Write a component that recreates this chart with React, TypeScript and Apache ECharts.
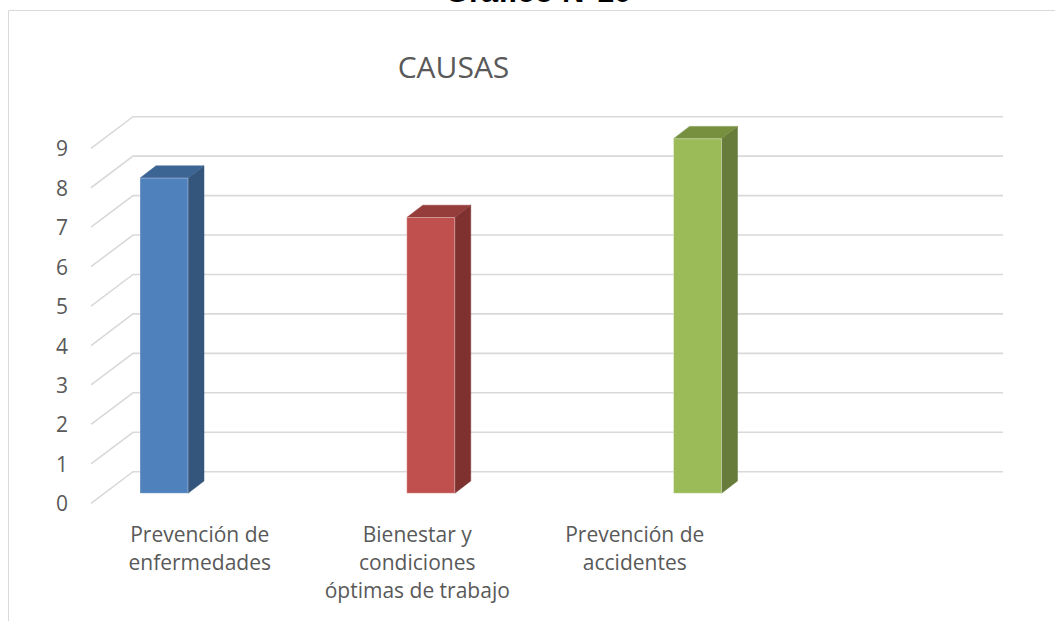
import React, { useEffect, useRef } from "react";
import * as echarts from "echarts";

const categories = [
  "Prevención de\nenfermedades",
  "Bienestar y\ncondiciones\nóptimas de trabajo",
  "Prevención de\naccidentes",
  "",
];
const values = [8, 7, 9];
const yTicks = [0, 1, 2, 3, 4, 5, 6, 7, 8, 9];
const frontColors = ["#4f81bd", "#c0504d", "#9bbb59"];
const sideColors = ["#34557c", "#7e312f", "#677b3a"];
const topColors = ["#3d6594", "#943d3a", "#76903f"];

const FONT = "'Open Sans', 'Noto Sans', sans-serif";

export default function App() {
  const ref = useRef<HTMLDivElement>(null);
  useEffect(() => {
    if (!ref.current) return;
    const chart = echarts.init(ref.current, null, { renderer: "svg" });
    const depthX = 16;
    const depthY = -12.3;
    const wallX = 42;
    const wallY = -31.6;
    const option: any = {
      animation: false,
      backgroundColor: "#ffffff",
      graphic: [
        {
          type: "rect",
          silent: true,
          shape: { x: 8.5, y: 10.5, width: 1200, height: 800 },
          style: { fill: "none", stroke: "#d9d9d9", lineWidth: 1 },
          z: 0,
        },
        {
          type: "text",
          x: 538,
          y: -8.5,
          style: {
            text: "Gráfico N°10",
            font: "bold 31px 'Liberation Sans', Arial, sans-serif",
            fill: "#000000",
            align: "center",
            verticalAlign: "middle",
          },
        },
        {
          type: "text",
          x: 453.5,
          y: 66,
          style: {
            text: "CAUSAS",
            font: "30px " + FONT,
            fill: "#595959",
            align: "center",
            verticalAlign: "middle",
          },
        },
      ],
      grid: [
        { left: 91, width: 870, top: 148.3, bottom: 117.7 },
        { left: 164, width: 533.5, top: 138.7, bottom: 127.7 },
      ],
      xAxis: [
        {
          type: "category",
          gridIndex: 0,
          data: categories,
          axisLine: { show: false },
          axisTick: { show: false },
          splitLine: { show: false },
          axisLabel: {
            interval: 0,
            margin: 17,
            color: "#595959",
            fontFamily: FONT,
            fontSize: 21,
            lineHeight: 28,
            align: "center",
          },
        },
        { type: "value", gridIndex: 1, min: 0, max: 2, show: false },
      ],
      yAxis: [
        {
          type: "value",
          gridIndex: 0,
          min: 0,
          max: 9,
          interval: 1,
          axisLine: { show: false },
          axisTick: { show: false },
          splitLine: { show: false },
          axisLabel: {
            margin: 23,
            color: "#595959",
            fontFamily: FONT,
            fontSize: 21,
          },
        },
        { type: "value", gridIndex: 1, min: 0, max: 9, interval: 1, show: false },
      ],
      series: [
        {
          type: "custom",
          xAxisIndex: 0,
          yAxisIndex: 0,
          clip: false,
          silent: true,
          z: 1,
          data: yTicks.map((v) => [0, v]),
          renderItem: (params: any, api: any) => {
            const cs = params.coordSys;
            const y = api.coord([0, api.value(1)])[1];
            const x0 = cs.x;
            const x1 = cs.x + cs.width + wallX;
            return {
              type: "polyline",
              shape: {
                points: [
                  [x0, y],
                  [x0 + wallX, y + wallY],
                  [x1, y + wallY],
                ],
              },
              style: { stroke: "#d9d9d9", lineWidth: 1.6, fill: "none" },
            };
          },
        },
        {
          type: "custom",
          xAxisIndex: 1,
          yAxisIndex: 1,
          clip: false,
          silent: true,
          z: 5,
          data: values.map((v, i) => [i, v]),
          renderItem: (params: any, api: any) => {
            const i = api.value(0);
            const top = api.coord([i, api.value(1)]);
            const base = api.coord([i, 0]);
            const w = 48;
            const xl = top[0] - w / 2;
            const xr = top[0] + w / 2;
            const yt = top[1];
            const yb = base[1];
            return {
              type: "group",
              children: [
                {
                  type: "polygon",
                  shape: {
                    points: [
                      [xr, yt],
                      [xr + depthX, yt + depthY],
                      [xr + depthX, yb + depthY],
                      [xr, yb],
                    ],
                  },
                  style: { fill: sideColors[i], stroke: sideColors[i], lineWidth: 0.5 },
                },
                {
                  type: "polygon",
                  shape: {
                    points: [
                      [xl, yt],
                      [xl + depthX, yt + depthY],
                      [xr + depthX, yt + depthY],
                      [xr, yt],
                    ],
                  },
                  style: { fill: topColors[i], stroke: topColors[i], lineWidth: 0.5 },
                },
                {
                  type: "rect",
                  shape: { x: xl, y: yt, width: w, height: yb - yt },
                  style: { fill: frontColors[i], stroke: "rgba(255,255,255,0.35)", lineWidth: 1 },
                },
              ],
            };
          },
        },
      ],
    };
    chart.setOption(option);
    return () => chart.dispose();
  }, []);
  return (
    <div
      ref={ref}
      style={{ position: "absolute", left: 0, top: 0, width: 1055, height: 621 }}
    />
  );
}
